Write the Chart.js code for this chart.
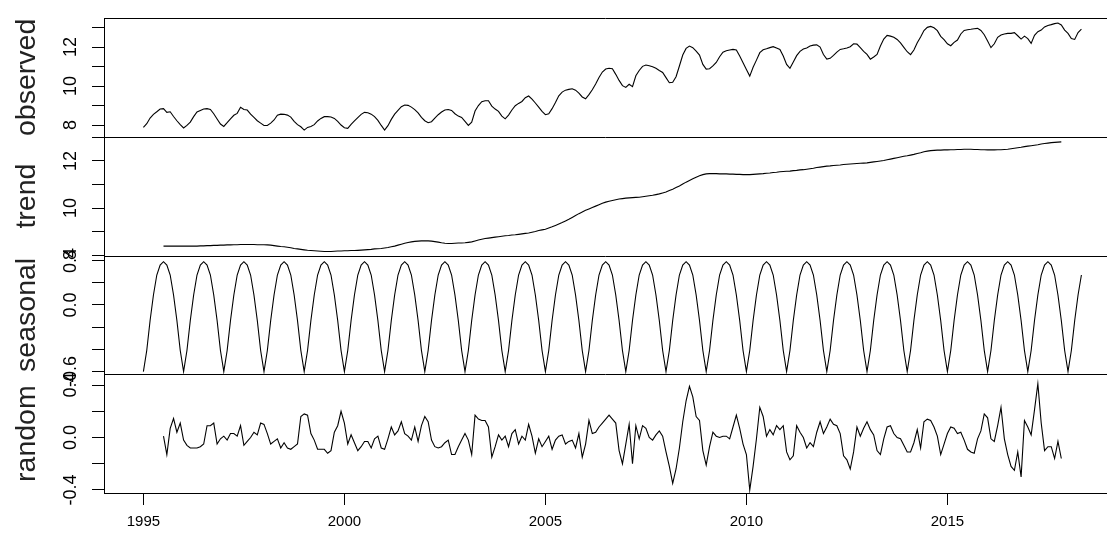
<!DOCTYPE html>
<html>
<head>
<meta charset="utf-8">
<script src="https://cdn.jsdelivr.net/npm/chart.js@4/dist/chart.umd.min.js"></script>
<style>
  html, body { margin: 0; padding: 0; background: #fff; }
  #wrap { width: 1107px; height: 539px; }
</style>
</head>
<body>
<div id="wrap"><canvas id="decomp" width="1107" height="539"></canvas></div>
<script>
// monthly series, Jan 1995 .. May 2018
const startYear = 1995;
// trend and remainder lose 6 months at each end (2x12 moving average)
const trendStart = 1995 + 6 / 12;

const observed = [
  7.88, 8.07, 8.36, 8.55, 8.68, 8.82, 8.84, 8.65, 8.68, 8.44, 8.22, 8.02,
  7.85, 7.98, 8.15, 8.43, 8.67, 8.75, 8.82, 8.84, 8.80, 8.58, 8.31, 8.05,
  7.93, 8.12, 8.32, 8.50, 8.60, 8.91, 8.80, 8.77, 8.56, 8.39, 8.22, 8.10,
  7.98, 7.98, 8.10, 8.26, 8.50, 8.56, 8.55, 8.51, 8.41, 8.19, 8.02, 7.91,
  7.74, 7.88, 7.93, 8.02, 8.21, 8.34, 8.43, 8.43, 8.41, 8.34, 8.19, 8.00,
  7.86, 7.83, 8.03, 8.21, 8.38, 8.55, 8.65, 8.63, 8.56, 8.43, 8.24, 7.98,
  7.74, 7.97, 8.29, 8.56, 8.75, 8.94, 9.03, 9.01, 8.92, 8.79, 8.62, 8.39,
  8.22, 8.12, 8.17, 8.36, 8.53, 8.67, 8.77, 8.80, 8.75, 8.58, 8.46, 8.39,
  8.19, 7.98, 8.15, 8.72, 9.00, 9.20, 9.25, 9.25, 8.97, 8.82, 8.70, 8.46,
  8.32, 8.51, 8.77, 8.99, 9.11, 9.21, 9.40, 9.49, 9.33, 9.13, 8.92, 8.70,
  8.53, 8.58, 8.84, 9.16, 9.50, 9.69, 9.79, 9.83, 9.86, 9.79, 9.64, 9.44,
  9.35, 9.56, 9.81, 10.10, 10.44, 10.72, 10.87, 10.91, 10.89, 10.60, 10.29, 10.02,
  9.93, 10.09, 9.97, 10.53, 10.80, 11.01, 11.08, 11.04, 10.99, 10.91, 10.80, 10.70,
  10.43, 10.17, 10.19, 10.48, 11.03, 11.59, 11.93, 12.05, 11.97, 11.79, 11.59, 11.11,
  10.87, 10.89, 11.03, 11.21, 11.50, 11.74, 11.81, 11.85, 11.88, 11.85, 11.54, 11.20,
  10.85, 10.51, 10.96, 11.33, 11.71, 11.86, 11.91, 11.97, 12.02, 11.95, 11.88, 11.54,
  11.11, 10.91, 11.23, 11.56, 11.78, 11.90, 11.95, 12.05, 12.10, 12.11, 12.00, 11.62,
  11.38, 11.42, 11.57, 11.74, 11.88, 11.91, 11.95, 12.02, 12.17, 12.15, 11.97, 11.78,
  11.62, 11.38, 11.49, 11.62, 12.05, 12.41, 12.60, 12.56, 12.50, 12.39, 12.21, 11.98,
  11.76, 11.61, 11.85, 12.22, 12.51, 12.85, 13.01, 13.06, 12.99, 12.84, 12.55, 12.38,
  12.17, 12.07, 12.24, 12.36, 12.67, 12.85, 12.89, 12.91, 12.94, 12.96, 12.85, 12.63,
  12.31, 11.97, 12.17, 12.50, 12.62, 12.67, 12.70, 12.70, 12.74, 12.58, 12.41, 12.56,
  12.43, 12.19, 12.60, 12.79, 12.87, 13.03, 13.11, 13.15, 13.20, 13.23, 13.13, 12.87,
  12.70, 12.44, 12.39, 12.74, 12.92
];

// Jul 1995 .. Nov 2017
const trend = [
  8.38, 8.38, 8.38, 8.38, 8.38, 8.38,
  8.38, 8.38, 8.38, 8.38, 8.38, 8.39, 8.39, 8.40, 8.40, 8.41, 8.41, 8.42,
  8.42, 8.43, 8.43, 8.44, 8.44, 8.45, 8.45, 8.45, 8.45, 8.45, 8.44, 8.44,
  8.44, 8.43, 8.42, 8.40, 8.38, 8.36, 8.35, 8.33, 8.31, 8.28, 8.26, 8.24,
  8.22, 8.20, 8.19, 8.18, 8.17, 8.16, 8.15, 8.15, 8.15, 8.16, 8.17, 8.17,
  8.18, 8.18, 8.19, 8.19, 8.20, 8.21, 8.22, 8.23, 8.24, 8.26, 8.27, 8.28,
  8.30, 8.32, 8.35, 8.38, 8.42, 8.46, 8.50, 8.53, 8.56, 8.58, 8.59, 8.60,
  8.60, 8.60, 8.59, 8.57, 8.55, 8.52, 8.50, 8.49, 8.49, 8.50, 8.51, 8.51,
  8.52, 8.54, 8.56, 8.60, 8.64, 8.67, 8.70, 8.72, 8.74, 8.76, 8.78, 8.80,
  8.82, 8.83, 8.85, 8.86, 8.88, 8.90, 8.92, 8.94, 8.97, 9.00, 9.04, 9.07,
  9.10, 9.15, 9.20, 9.26, 9.32, 9.38, 9.45, 9.52, 9.60, 9.68, 9.76, 9.83,
  9.90, 9.96, 10.02, 10.08, 10.14, 10.20, 10.25, 10.29, 10.32, 10.35, 10.38, 10.40,
  10.42, 10.43, 10.44, 10.45, 10.46, 10.48, 10.50, 10.52, 10.54, 10.57, 10.60, 10.64,
  10.68, 10.74, 10.80, 10.87, 10.94, 11.02, 11.10, 11.17, 11.24, 11.31, 11.37, 11.42,
  11.45, 11.46, 11.46, 11.46, 11.45, 11.45, 11.45, 11.44, 11.44, 11.43, 11.43, 11.42,
  11.42, 11.42, 11.43, 11.44, 11.45, 11.46, 11.48, 11.49, 11.51, 11.52, 11.54, 11.55,
  11.56, 11.57, 11.59, 11.60, 11.62, 11.63, 11.65, 11.67, 11.69, 11.72, 11.74, 11.76,
  11.78, 11.79, 11.81, 11.82, 11.83, 11.85, 11.86, 11.87, 11.88, 11.89, 11.90, 11.91,
  11.92, 11.94, 11.96, 11.98, 12.00, 12.02, 12.05, 12.08, 12.11, 12.14, 12.17, 12.20,
  12.22, 12.25, 12.28, 12.32, 12.35, 12.39, 12.42, 12.44, 12.45, 12.46, 12.46, 12.47,
  12.47, 12.48, 12.48, 12.49, 12.49, 12.50, 12.50, 12.50, 12.49, 12.49, 12.48, 12.48,
  12.47, 12.47, 12.47, 12.48, 12.48, 12.49, 12.50, 12.52, 12.54, 12.56, 12.58, 12.61,
  12.63, 12.65, 12.67, 12.69, 12.72, 12.74, 12.76, 12.78, 12.79, 12.80, 12.81
];

const seasonal = [
  -0.60, -0.41, -0.14, 0.09, 0.27, 0.36, 0.39, 0.36, 0.27, 0.09, -0.14, -0.41,
  -0.60, -0.41, -0.14, 0.09, 0.27, 0.36, 0.39, 0.36, 0.27, 0.09, -0.14, -0.41,
  -0.60, -0.41, -0.14, 0.09, 0.27, 0.36, 0.39, 0.36, 0.27, 0.09, -0.14, -0.41,
  -0.60, -0.41, -0.14, 0.09, 0.27, 0.36, 0.39, 0.36, 0.27, 0.09, -0.14, -0.41,
  -0.60, -0.41, -0.14, 0.09, 0.27, 0.36, 0.39, 0.36, 0.27, 0.09, -0.14, -0.41,
  -0.60, -0.41, -0.14, 0.09, 0.27, 0.36, 0.39, 0.36, 0.27, 0.09, -0.14, -0.41,
  -0.60, -0.41, -0.14, 0.09, 0.27, 0.36, 0.39, 0.36, 0.27, 0.09, -0.14, -0.41,
  -0.60, -0.41, -0.14, 0.09, 0.27, 0.36, 0.39, 0.36, 0.27, 0.09, -0.14, -0.41,
  -0.60, -0.41, -0.14, 0.09, 0.27, 0.36, 0.39, 0.36, 0.27, 0.09, -0.14, -0.41,
  -0.60, -0.41, -0.14, 0.09, 0.27, 0.36, 0.39, 0.36, 0.27, 0.09, -0.14, -0.41,
  -0.60, -0.41, -0.14, 0.09, 0.27, 0.36, 0.39, 0.36, 0.27, 0.09, -0.14, -0.41,
  -0.60, -0.41, -0.14, 0.09, 0.27, 0.36, 0.39, 0.36, 0.27, 0.09, -0.14, -0.41,
  -0.60, -0.41, -0.14, 0.09, 0.27, 0.36, 0.39, 0.36, 0.27, 0.09, -0.14, -0.41,
  -0.60, -0.41, -0.14, 0.09, 0.27, 0.36, 0.39, 0.36, 0.27, 0.09, -0.14, -0.41,
  -0.60, -0.41, -0.14, 0.09, 0.27, 0.36, 0.39, 0.36, 0.27, 0.09, -0.14, -0.41,
  -0.60, -0.41, -0.14, 0.09, 0.27, 0.36, 0.39, 0.36, 0.27, 0.09, -0.14, -0.41,
  -0.60, -0.41, -0.14, 0.09, 0.27, 0.36, 0.39, 0.36, 0.27, 0.09, -0.14, -0.41,
  -0.60, -0.41, -0.14, 0.09, 0.27, 0.36, 0.39, 0.36, 0.27, 0.09, -0.14, -0.41,
  -0.60, -0.41, -0.14, 0.09, 0.27, 0.36, 0.39, 0.36, 0.27, 0.09, -0.14, -0.41,
  -0.60, -0.41, -0.14, 0.09, 0.27, 0.36, 0.39, 0.36, 0.27, 0.09, -0.14, -0.41,
  -0.60, -0.41, -0.14, 0.09, 0.27, 0.36, 0.39, 0.36, 0.27, 0.09, -0.14, -0.41,
  -0.60, -0.41, -0.14, 0.09, 0.27, 0.36, 0.39, 0.36, 0.27, 0.09, -0.14, -0.41,
  -0.60, -0.41, -0.14, 0.09, 0.27, 0.36, 0.39, 0.36, 0.27, 0.09, -0.14, -0.41,
  -0.60, -0.41, -0.14, 0.09, 0.27
];

// Jul 1995 .. Nov 2017
const random = [
  0.01, -0.13, 0.07, 0.145, 0.04, 0.11, -0.02, -0.06, -0.08, -0.08, -0.08, -0.07,
  -0.05, 0.09, 0.09, 0.11, -0.05, -0.01, 0.01, -0.02, 0.03, 0.03, 0.01, 0.09,
  -0.06, -0.03, 0.00, 0.04, 0.02, 0.11, 0.10, 0.03, -0.05, -0.03, -0.01, -0.08,
  -0.04, -0.08, -0.09, -0.07, -0.05, 0.16, 0.18, 0.17, 0.03, -0.02, -0.09, -0.09,
  -0.09, -0.12, -0.10, 0.04, 0.09, 0.20, 0.11, -0.05, 0.02, -0.04, -0.10, -0.07,
  -0.03, -0.03, -0.08, -0.01, 0.01, -0.08, -0.09, -0.01, 0.08, 0.02, 0.05, 0.12,
  0.03, 0.01, -0.02, 0.08, -0.03, 0.09, 0.16, 0.12, -0.02, -0.07, -0.08, -0.07,
  -0.04, -0.02, -0.13, -0.13, -0.07, -0.02, 0.03, -0.02, -0.13, 0.17, 0.14, 0.13,
  0.13, 0.08, -0.15, -0.07, 0.02, -0.02, 0.01, -0.07, 0.03, 0.06, -0.05, 0.01,
  -0.02, 0.10, 0.01, -0.12, -0.01, -0.07, -0.03, 0.01, -0.09, -0.02, 0.01, 0.02,
  -0.05, -0.03, -0.02, -0.08, 0.03, -0.15, -0.05, 0.13, 0.03, 0.04, 0.08, 0.11,
  0.14, 0.17, 0.14, 0.11, -0.10, -0.20, -0.05, 0.10, -0.20, 0.09, -0.01, 0.09,
  0.07, 0.00, -0.02, 0.02, 0.05, 0.01, -0.11, -0.22, -0.35, -0.24, -0.08, 0.12,
  0.28, 0.39, 0.31, 0.16, 0.13, -0.10, -0.21, -0.07, 0.04, 0.01, 0.00, 0.01,
  0.01, -0.01, 0.08, 0.17, 0.07, -0.05, -0.13, -0.40, -0.22, -0.01, 0.23, 0.16,
  0.01, 0.06, 0.02, 0.09, 0.06, 0.09, -0.11, -0.17, -0.14, 0.09, 0.04, 0.00,
  -0.08, -0.04, -0.07, 0.04, 0.12,
  0.03, 0.08, 0.14, 0.10, 0.09, 0.03, -0.14, -0.17, -0.24, -0.11, 0.08, 0.01,
  0.07, 0.12, 0.06, 0.02, -0.10, -0.13, -0.01, 0.08, 0.09, 0.03, 0.00, -0.01,
  -0.06, -0.11, -0.11, -0.04, 0.06, -0.08, 0.12, 0.14, 0.13, 0.08, 0.01, -0.13,
  -0.05, 0.03, 0.08, 0.07, 0.03, 0.04, -0.02, -0.09, -0.11, -0.12, -0.01, 0.05,
  0.18, 0.15, -0.01, -0.03, 0.09, 0.23, -0.01, -0.13, -0.22, -0.25, -0.11, -0.30,
  0.13, 0.08, 0.02, 0.21, 0.41, 0.11, -0.10, -0.07, -0.07, -0.16, -0.03, -0.16
];

// axis ticks and labels
const xTicks = [1995, 2000, 2005, 2010, 2015];
const observedTicks = [8, 9, 10, 11, 12, 13];
const observedLabels = ['8', '10', '12'];
const trendTicks = [8, 9, 10, 11, 12, 13];
const trendLabels = ['8', '10', '12'];
const seasonalTicks = [-0.6, -0.4, -0.2, 0, 0.2, 0.4];
const seasonalLabels = ['-0.6', '0.0', '0.4'];
const randomTicks = [-0.4, -0.2, 0, 0.2, 0.4];
const randomLabels = ['-0.4', '0.0', '0.4'];

const FONT = "'Liberation Sans', Arial, sans-serif";

const toPoints = (vals, t0) => vals.map((v, i) => ({ x: t0 + i / 12, y: v }));

function panelAxis(title, min, max, tickVals) {
  return {
    type: 'linear',
    position: 'left',
    stack: 'decomp',
    stackWeight: 1,
    min: min,
    max: max,
    afterBuildTicks: s => { s.ticks = tickVals.map(v => ({ value: v })); },
    afterFit: s => { s.width = 104; },
    grid: { drawOnChartArea: false, drawTicks: true, tickLength: 12, color: '#000', lineWidth: 1 },
    border: { display: true, color: '#000', width: 1 },
    ticks: { display: false },
    title: {
      display: true, text: title, color: '#222',
      font: { family: FONT, size: 28.5, lineHeight: 1 },
      padding: { top: 13, bottom: 0 }
    }
  };
}

const panels = [
  { id: 'yObserved', labels: observedLabels },
  { id: 'yTrend', labels: trendLabels },
  { id: 'ySeasonal', labels: seasonalLabels },
  { id: 'yRandom', labels: randomLabels }
];

// frame lines between panels + rotated y tick labels like R draws them
const panelFrame = {
  id: 'panelFrame',
  afterDraw(chart) {
    const ctx = chart.ctx;
    ctx.save();
    ctx.strokeStyle = '#000';
    ctx.lineWidth = 1;
    panels.forEach(p => {
      const s = chart.scales[p.id];
      const y = Math.round(s.top) + 0.5;
      ctx.beginPath();
      ctx.moveTo(chart.chartArea.left, y);
      ctx.lineTo(chart.width, y);
      ctx.stroke();
    });
    ctx.fillStyle = '#000';
    ctx.font = '18px ' + FONT;
    ctx.textAlign = 'center';
    ctx.textBaseline = 'middle';
    panels.forEach(p => {
      const s = chart.scales[p.id];
      p.labels.forEach(lab => {
        const y = s.getPixelForValue(parseFloat(lab));
        ctx.save();
        ctx.translate(71, y);
        ctx.rotate(-Math.PI / 2);
        ctx.fillText(lab, 0, 0);
        ctx.restore();
      });
    });
    ctx.restore();
  }
};

const line = (data, axis) => ({
  data: data,
  yAxisID: axis,
  xAxisID: 'x',
  borderColor: '#000',
  borderWidth: 1.1,
  pointRadius: 0,
  fill: false,
  tension: 0
});

new Chart(document.getElementById('decomp'), {
  type: 'line',
  data: {
    datasets: [
      line(toPoints(observed, startYear), 'yObserved'),
      line(toPoints(trend, trendStart), 'yTrend'),
      line(toPoints(seasonal, startYear), 'ySeasonal'),
      line(toPoints(random, trendStart), 'yRandom')
    ]
  },
  options: {
    responsive: false,
    animation: false,
    devicePixelRatio: 1,
    layout: { padding: { top: 18, left: 0, right: 0, bottom: 0 } },
    plugins: { legend: { display: false }, tooltip: { enabled: false } },
    scales: {
      x: {
        type: 'linear',
        position: 'bottom',
        min: 1994.02,
        max: 2018.97,
        afterBuildTicks: s => { s.ticks = xTicks.map(v => ({ value: v })); },
        afterFit: s => { s.height = 46; },
        grid: { drawOnChartArea: false, drawTicks: true, tickLength: 12, color: '#000' },
        border: { display: true, color: '#000', width: 1 },
        ticks: { color: '#000', font: { family: FONT, size: 15 }, padding: 8, maxRotation: 0, callback: v => String(v) }
      },
      // the last stacked axis is placed on top
      yRandom: panelAxis('random', -0.423, 0.482, randomTicks),
      ySeasonal: panelAxis('seasonal', -0.624, 0.446, seasonalTicks),
      yTrend: panelAxis('trend', 7.98, 13.03, trendTicks),
      yObserved: panelAxis('observed', 7.40, 13.49, observedTicks)
    }
  },
  plugins: [panelFrame]
});
</script>
</body>
</html>
